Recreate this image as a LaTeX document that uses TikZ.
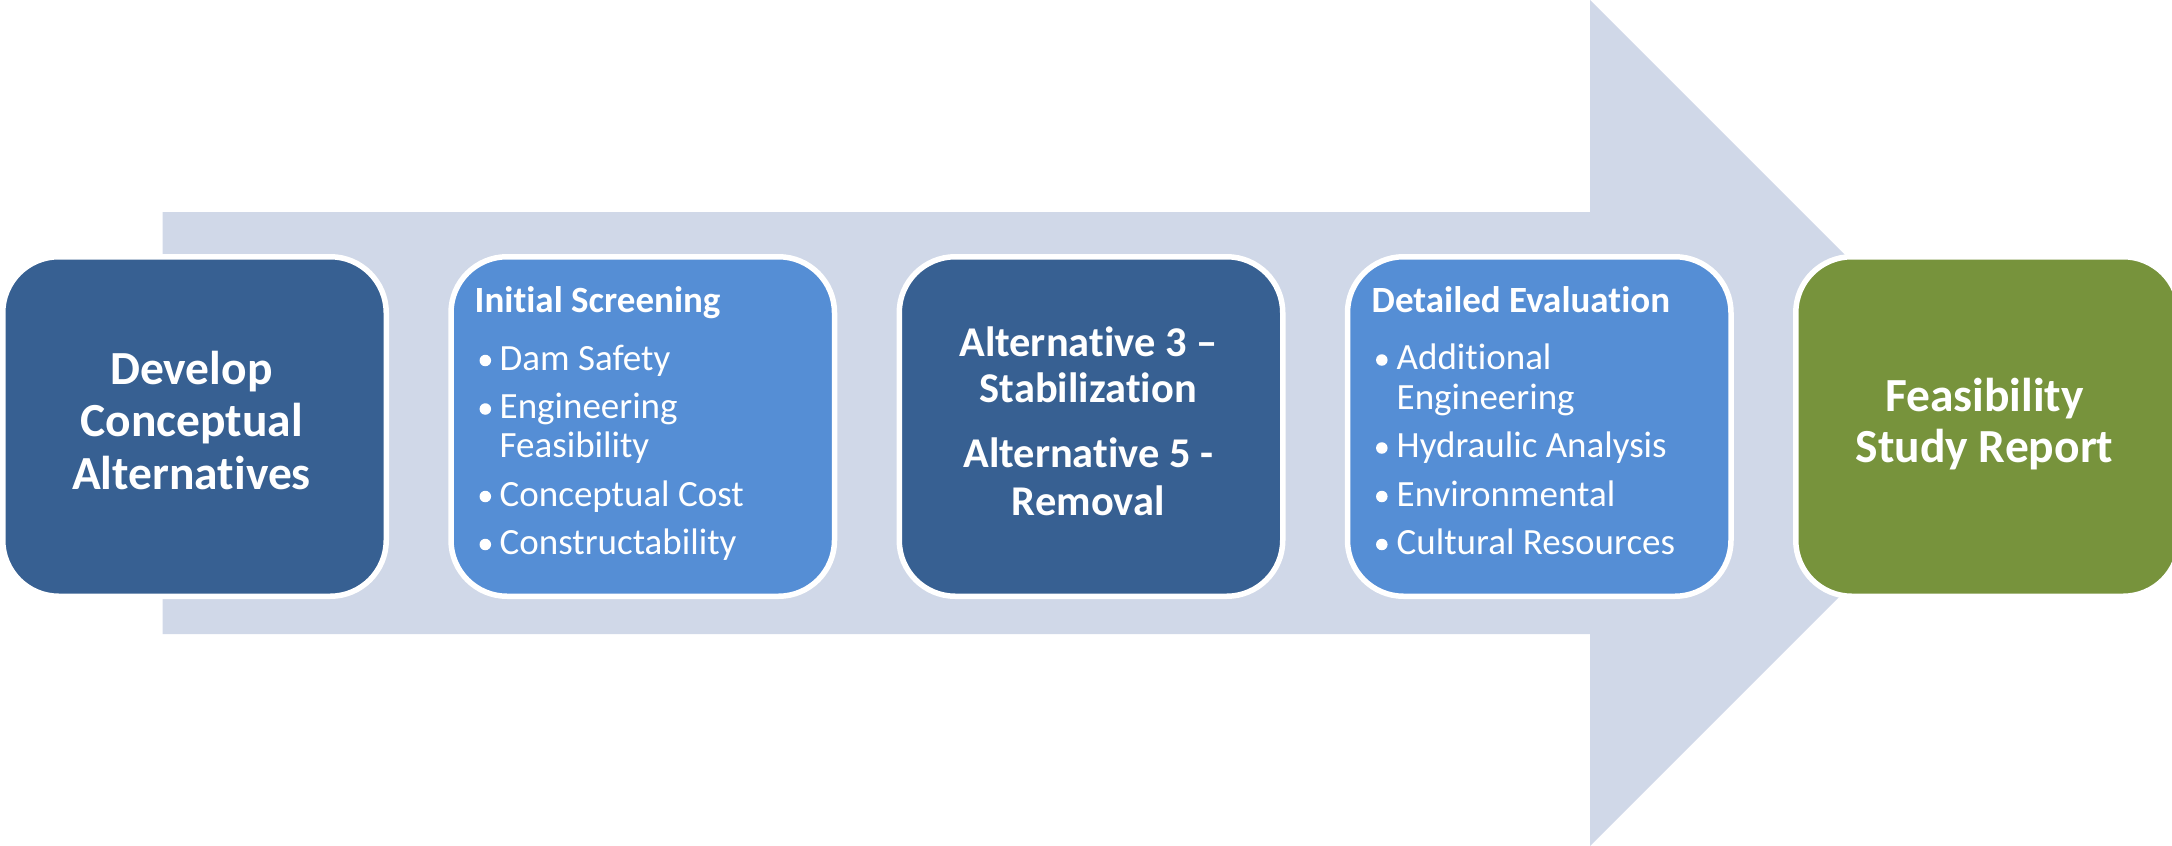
\documentclass[tikz,border=0pt]{standalone}
\usepackage{fontspec}
\setmainfont{Carlito}[Ligatures={NoCommon}]
\definecolor{shaftfill}{HTML}{D0D8E8}
\definecolor{darkstage}{HTML}{376092}
\definecolor{lightstage}{HTML}{558ED5}
\definecolor{greenstage}{HTML}{77933C}

\begin{document}
\begin{tikzpicture}[x=1pt,y=-1pt,
  stage/.style={draw=white, line width=5.5pt, rounded corners=56pt,
    minimum width=383.5pt, minimum height=339.5pt, inner sep=0pt,
    anchor=north west},
  bigtitle/.style={text=white, inner sep=0pt, anchor=base,
    font=\fontsize{47.5}{52.5}\selectfont\bfseries},
  midtitle/.style={text=white, inner sep=0pt, anchor=base,
    font=\fontsize{42.4}{46.7}\selectfont\bfseries},
  listhead/.style={text=white, inner sep=0pt, anchor=base west,
    font=\fontsize{37}{40}\selectfont\bfseries},
  listitem/.style={text=white, inner sep=0pt, anchor=base west,
    font=\fontsize{37}{40}\selectfont},
  dot/.style={circle, fill=white, inner sep=0pt, minimum size=11.5pt}
]
\useasboundingbox (0,0) rectangle (2172,846);

% background block arrow
\fill[shaftfill] (162.5,212) -- (1590,212) -- (1590,0) -- (2013,423)
  -- (1590,846) -- (1590,634) -- (162.5,634) -- cycle;

% the five stages
\node[stage, fill=darkstage]  (develop) at (0,254) {};
\node[stage, fill=lightstage] (screen)  at (448.25,254) {};
\node[stage, fill=darkstage]  (alts)    at (896.5,254) {};
\node[stage, fill=lightstage] (detail)  at (1344.75,254) {};
\node[stage, fill=greenstage] (report)  at (1793,254) {};

% stage 1
\node[bigtitle] (develop-a) at (191.5,384)   {Develop};
\node[bigtitle] (develop-b) at (191.5,436.5) {Conceptual};
\node[bigtitle] (develop-c) at (191.5,489)   {Alternatives};

% stage 2
\node[listhead] (screen-h) at (474.5,312.5) {Initial Screening};
\node[dot] (screen-d1) at (485.3,360.5) {};
\node[listitem] (screen-1) at (499.5,370) {Dam Safety};
\node[dot] (screen-d2) at (485.3,409) {};
\node[listitem] (screen-2a) at (499.5,418.5) {Engineering};
\node[listitem] (screen-2b) at (499.5,457.5) {Feasibility};
\node[dot] (screen-d3) at (485.3,496.5) {};
\node[listitem] (screen-3) at (499.5,506) {Conceptual Cost};
\node[dot] (screen-d4) at (485.3,544.5) {};
\node[listitem] (screen-4) at (499.5,554) {Constructability};

% stage 3
\node[midtitle] (alts-a) at (1088.25,356)   {Alternative 3 –};
\node[midtitle] (alts-b) at (1088.25,402.7) {Stabilization};
\node[midtitle] (alts-c) at (1088.25,467.7) {Alternative 5 -};
\node[midtitle] (alts-d) at (1088.25,515)   {Removal};

% stage 4
\node[listhead] (detail-h) at (1371.5,312.5) {Detailed Evaluation};
\node[dot] (detail-d1) at (1381.8,360) {};
\node[listitem] (detail-1a) at (1396.5,369.5) {Additional};
\node[listitem] (detail-1b) at (1396.5,409.5) {Engineering};
\node[dot] (detail-d2) at (1381.8,448) {};
\node[listitem] (detail-2) at (1396.5,457.5) {Hydraulic Analysis};
\node[dot] (detail-d3) at (1381.8,496.5) {};
\node[listitem] (detail-3) at (1396.5,506) {Environmental};
\node[dot] (detail-d4) at (1381.8,544.5) {};
\node[listitem] (detail-4) at (1396.5,554) {Cultural Resources};

% stage 5
\node[bigtitle] (report-a) at (1984.5,411)   {Feasibility};
\node[bigtitle] (report-b) at (1984.5,462) {Study Report};
\end{tikzpicture}
\end{document}
